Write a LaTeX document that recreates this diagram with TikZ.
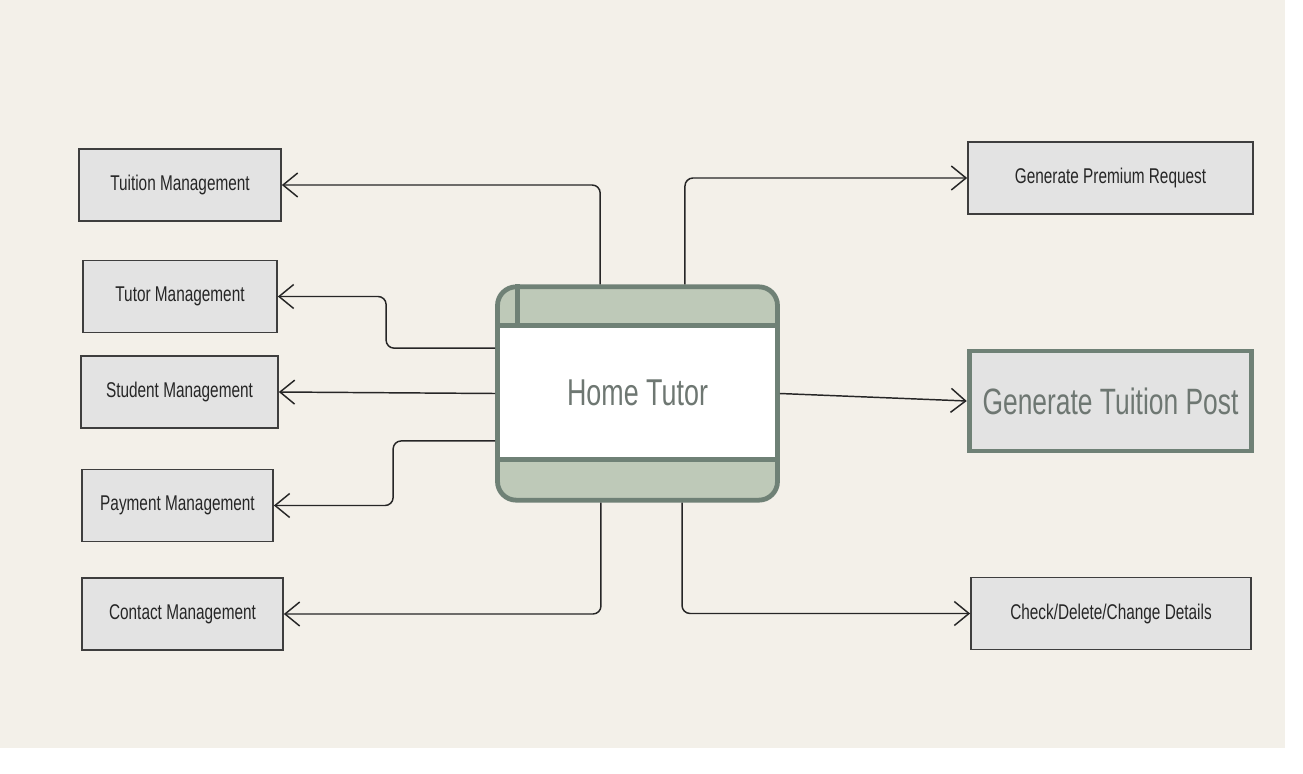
\documentclass[tikz,border=0pt]{standalone}
\usepackage{fontspec}
\setmainfont{Liberation Sans}[FakeStretch=0.72]
\usetikzlibrary{arrows.meta,positioning,calc}

\definecolor{paper}{HTML}{F3F0E9}
\definecolor{boxgrey}{HTML}{E3E3E3}
\definecolor{edgegrey}{HTML}{3E3E3E}
\definecolor{sage}{HTML}{BEC9B8}
\definecolor{sagedark}{HTML}{6F8176}
\definecolor{textgrey}{HTML}{6E7772}

\begin{document}
\begin{tikzpicture}[x=0.75pt,y=-0.75pt]
\tikzstyle{module} = [rectangle, draw=edgegrey, fill=boxgrey, line width=1.3pt, minimum width=148pt, minimum height=54pt, font=\fontsize{16}{19}\selectfont, text=black!85, inner sep=2pt]
\tikzstyle{line} = [draw, line width=1.1pt, black!85, rounded corners=6pt, -{Straight Barb[length=11pt,width=18pt,line width=1.1pt]}]

% Page and margins
\fill[white] (0,0) rectangle (1303,774);
\fill[paper] (0,0) rectangle (1285,748);

% Central process box
\node [rectangle, draw=sagedark, fill=sage, line width=3.6pt, rounded corners=14pt, minimum width=210pt, minimum height=160pt] (home) at (637.5,393.5) {};
\node [rectangle, draw=sagedark, fill=white, line width=3.6pt, minimum width=210pt, minimum height=101pt, font=\fontsize{28}{31}\selectfont, text=textgrey] (body) at (637.5,392.5) {Home Tutor};
\draw [sagedark, line width=3.6pt] ([xshift=16.5pt]home.north west) -- ([xshift=16.5pt]body.north west);

% Left side modules
\node [module, minimum width=151.5pt] (tuition) at (180,185) {Tuition Management};
\node [module, minimum width=145.5pt] (tutor) at (180,296.5) {Tutor Management};
\node [module, minimum width=147.75pt] (student) at (179.5,392) {Student Management};
\node [module, minimum width=143.25pt] (payment) at (177.5,505.5) {Payment Management};
\node [module, minimum width=150.75pt] (contact) at (182.5,614) {Contact Management};

% Right side modules
\node [module, minimum width=213.75pt] (premium) at (1110.5,178) {Generate Premium Request};
\node [module, draw=sagedark, line width=3.6pt, minimum width=212pt, minimum height=75pt, font=\fontsize{27.5}{30}\selectfont, text=textgrey] (post) at (1110.5,401) {Generate Tuition Post};
\node [module, minimum width=210pt] (check) at (1111,613.5) {Check/Delete/Change Details};

% Connections
\draw [line] ([xshift=-28pt]home.north) |- (tuition.east);
\draw [line] ([xshift=35.6pt]home.north) |- (premium.west);
\draw [line] ([yshift=34pt]home.west) -- ++(-81.75pt,0) |- (tutor.east);
\draw [line] (home.west) -- (student.east);
\draw [line] ([yshift=-35.6pt]home.west) -- ++(-76.5pt,0) |- (payment.east);
\draw [line] ([xshift=-27.4pt]home.south) |- (contact.east);
\draw [line] ([xshift=33.4pt]home.south) |- (check.west);
\draw [line] (home.east) -- (post.west);

\end{tikzpicture}
\end{document}
